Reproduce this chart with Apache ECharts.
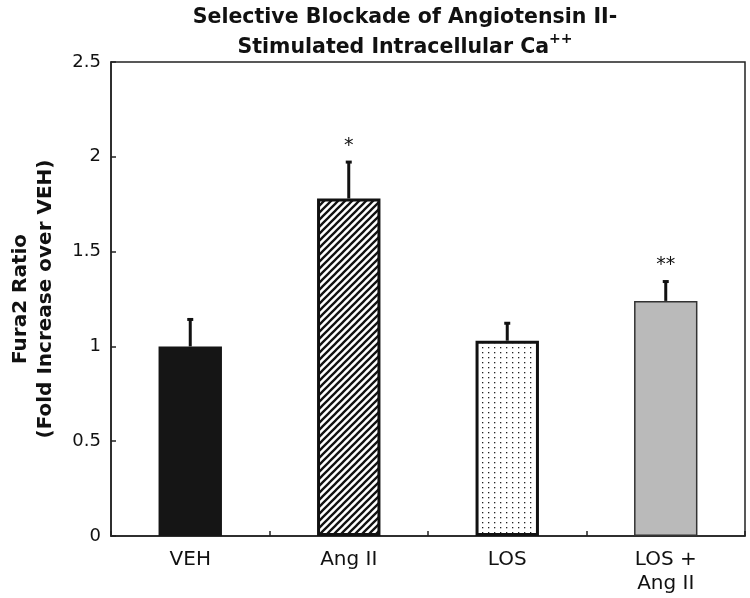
<!DOCTYPE html>
<html><head><meta charset="utf-8">
<script src="https://cdn.jsdelivr.net/npm/echarts@6/dist/echarts.min.js"></script>
<style>html,body{margin:0;padding:0;background:#fff}#main{width:750px;height:598px}</style>
</head><body><div id="main"></div>
<script>
const categories = ['VEH', 'Ang II', 'LOS', 'LOS +\nAng II'];
const means = [1.00, 1.78, 1.03, 1.24];
const sem = [0.15, 0.20, 0.10, 0.11];
const significance = ['', '*', '', '**'];
const yTicks = [0, 0.5, 1, 1.5, 2, 2.5];
const titleLine1 = 'Selective Blockade of Angiotensin II-';
const titleLine2 = 'Stimulated Intracellular Ca';
const titleSup = '++';
const yAxisTitle = ['Fura2 Ratio', '(Fold Increase over VEH)'];

const FONT = 'DejaVu Sans';

function hatchPattern() {
  const s = 7;
  const c = document.createElement('canvas'); c.width = s; c.height = s;
  const g = c.getContext('2d');
  g.fillStyle = '#fff'; g.fillRect(0, 0, s, s);
  g.strokeStyle = '#111'; g.lineWidth = 2.3; g.lineCap = 'square';
  g.beginPath();
  g.moveTo(0, s); g.lineTo(s, 0);
  g.moveTo(-s / 2, s / 2); g.lineTo(s / 2, -s / 2);
  g.moveTo(s / 2, s * 1.5); g.lineTo(s * 1.5, s / 2);
  g.stroke();
  return c;
}
function dotPattern() {
  const c = document.createElement('canvas'); c.width = 6; c.height = 5;
  const g = c.getContext('2d');
  g.fillStyle = '#fff'; g.fillRect(0, 0, 6, 5);
  g.fillStyle = '#222'; g.fillRect(2, 2, 1.3, 1.3);
  return c;
}

const barStyles = [
  { color: '#151515', borderColor: '#151515', borderWidth: 0 },
  { color: { image: hatchPattern(), repeat: 'repeat' }, borderColor: '#111', borderWidth: 3 },
  { color: { image: dotPattern(), repeat: 'repeat' }, borderColor: '#111', borderWidth: 3 },
  { color: '#bababa', borderColor: '#333', borderWidth: 1.5 }
];

const chart = echarts.init(document.getElementById('main'), null, { renderer: 'canvas' });
chart.setOption({
  animation: false,
  backgroundColor: '#fff',
  graphic: [
    { type: 'text', x: 405, y: 28, style: { text: titleLine1, font: 'bold 20.5px "' + FONT + '"', fill: '#111', textAlign: 'center', textVerticalAlign: 'bottom', align: 'center', verticalAlign: 'bottom' } },
    { type: 'text', x: 405, y: 58, style: {
      text: '{m|' + titleLine2 + '}{s|' + titleSup + '}',
      rich: {
        m: { font: 'bold 20.5px "' + FONT + '"', fill: '#111', lineHeight: 26, verticalAlign: 'bottom' },
        s: { font: 'bold 14px "' + FONT + '"', fill: '#111', lineHeight: 26, verticalAlign: 'top' }
      },
      textAlign: 'center', textVerticalAlign: 'bottom', align: 'center', verticalAlign: 'bottom' } }
  ],
  grid: { left: 98, right: 5, top: 62, bottom: 62, show: true, borderColor: '#222', borderWidth: 1.5, backgroundColor: 'transparent' },
  xAxis: {
    type: 'category', data: categories,
    axisLine: { show: true, lineStyle: { color: '#222', width: 1.5 } },
    axisTick: { show: true, inside: true, length: 5, lineStyle: { color: '#222', width: 1.5 } },
    axisLabel: { fontFamily: FONT, fontSize: 20, lineHeight: 24, color: '#111', margin: 12 },
    splitLine: { show: false }
  },
  yAxis: {
    type: 'value', min: yTicks[0], max: yTicks[yTicks.length - 1], interval: yTicks[1] - yTicks[0],
    axisLine: { show: true, lineStyle: { color: '#222', width: 1.5 } },
    axisTick: { show: true, inside: true, length: 5, lineStyle: { color: '#222', width: 1.5 } },
    splitLine: { show: false },
    axisLabel: { fontFamily: FONT, fontSize: 18, color: '#111', margin: 10 },
    name: yAxisTitle.join('\n'), nameLocation: 'middle', nameRotate: 90, nameGap: 53,
    nameTextStyle: { fontFamily: FONT, fontWeight: 'bold', fontSize: 20, lineHeight: 25, color: '#111' }
  },
  series: [
    {
      type: 'bar', barWidth: '40%',
      data: means.map((v, i) => ({ value: v, itemStyle: barStyles[i] })),
      z: 2
    },
    {
      type: 'custom', z: 5,
      encode: { x: 0, y: [1, 2] },
      data: means.map((m, i) => [i, m, m + sem[i]]),
      renderItem: function (params, api) {
        const base = api.coord([api.value(0), api.value(1)]);
        const top = api.coord([api.value(0), api.value(2)]);
        const sig = significance[params.dataIndex];
        const children = [
          { type: 'line', shape: { x1: base[0], y1: base[1], x2: top[0], y2: top[1] + 1.5 }, style: { stroke: '#111', lineWidth: 3 } },
          { type: 'rect', shape: { x: top[0] - 3, y: top[1], width: 6, height: 3 }, style: { fill: '#111' } }
        ];
        if (sig) {
          children.push({ type: 'text', x: top[0], y: top[1] - 15, style: { text: sig, font: '19px "' + FONT + '"', fill: '#111', textAlign: 'center', textVerticalAlign: 'middle', align: 'center', verticalAlign: 'middle' } });
        }
        return { type: 'group', children: children };
      }
    }
  ]
});
</script></body></html>
